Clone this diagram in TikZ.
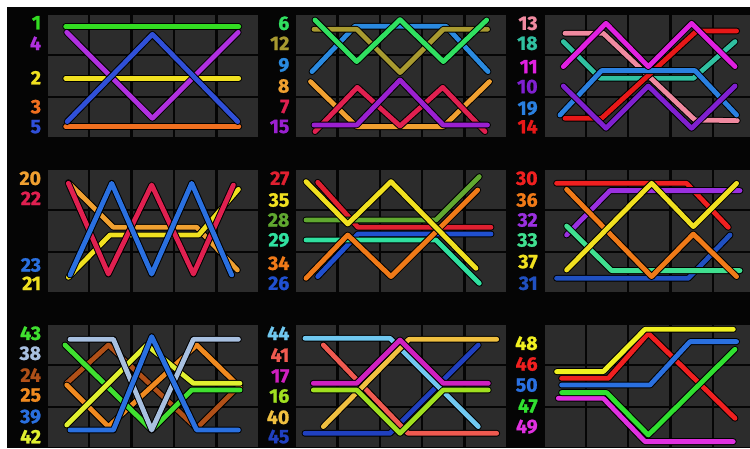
\documentclass[tikz,border=0pt]{standalone}
\usepackage{fontspec}
\setmainfont{Fira Sans}[BoldFeatures={FakeBold=1.2}]
\definecolor{cellc}{HTML}{2C2C2C}
\definecolor{bgc}{HTML}{050505}
% line colours
\definecolor{cA}{HTML}{33DD22}\definecolor{cB}{HTML}{B030E0}\definecolor{cC}{HTML}{F0E020}
\definecolor{cD}{HTML}{F07020}\definecolor{cE}{HTML}{3050D8}
\definecolor{cF}{HTML}{30E060}\definecolor{cG}{HTML}{A89A30}\definecolor{cH}{HTML}{2A8AE0}
\definecolor{cI}{HTML}{F0A030}\definecolor{cJ}{HTML}{E02050}\definecolor{cK}{HTML}{9A20D0}
\definecolor{cL}{HTML}{F08AA0}\definecolor{cM}{HTML}{30C0A0}\definecolor{cN}{HTML}{E020E0}
\definecolor{cO}{HTML}{8020D0}\definecolor{cP}{HTML}{2A80E0}\definecolor{cQ}{HTML}{E81818}
\definecolor{cR}{HTML}{2A70E0}
\definecolor{cS}{HTML}{E02030}\definecolor{cT}{HTML}{60A830}\definecolor{cU}{HTML}{30E0A0}
\definecolor{cV}{HTML}{F07A18}\definecolor{cW}{HTML}{2050D0}
\definecolor{cX}{HTML}{40E030}\definecolor{cY}{HTML}{A8C0E0}\definecolor{cZ}{HTML}{B05018}
\definecolor{ca}{HTML}{F08A20}\definecolor{cb}{HTML}{E0F030}
\definecolor{cc}{HTML}{70C8F0}\definecolor{cd}{HTML}{F05A50}\definecolor{ce}{HTML}{D020C0}
\definecolor{cf}{HTML}{A0E020}\definecolor{cg}{HTML}{F0C040}\definecolor{ch}{HTML}{2040C0}
\definecolor{ci}{HTML}{F0F020}\definecolor{cj}{HTML}{F02020}\definecolor{ck}{HTML}{30E030}
\definecolor{cl}{HTML}{E030E0}\definecolor{cm}{HTML}{40E090}\definecolor{cn}{HTML}{9A30E0}
\definecolor{co}{HTML}{2050C0}
\tikzset{
  pl/.style={draw=black, line width=1pt, double=#1, double distance=4.8pt, line cap=round, line join=round},
  lab/.style={text=#1, anchor=east, inner sep=0pt, font=\fontsize{19.5}{19.5}\selectfont\bfseries},
  cellbox/.style={fill=cellc},
}
\newcommand\pnlgrid{%
  \foreach \c in {0,...,4}{\foreach \r in {0,1,2}{%
    \fill[cellbox] (\c*42.4+1.2,\r*41.7+1.2) rectangle ++(40,39.3);}}}
\begin{document}
\begin{tikzpicture}[x=1pt,y=-1pt]
\useasboundingbox (0,0) rectangle (750,448);
\fill[white] (0,0) rectangle (750,448);
\fill[bgc] (7,6.7) rectangle (750,448);
% ---------- panel 1
\begin{scope}[shift={(46.7,13.3)}]
\pnlgrid
\node[lab=cA] (l1) at (-5.5,9.4) {1};
\node[lab=cB] (l4) at (-5.5,30) {4};
\node[lab=cC] (l2) at (-5.5,64.4) {2};
\node[lab=cD] (l3) at (-5.5,93.4) {3};
\node[lab=cE] (l5) at (-5.5,113.4) {5};
\draw[pl=cA] (19,13.3)--(192,13.3);
\draw[pl=cC] (19,65)--(192,65);
\draw[pl=cD] (19,113.3)--(192,113.3);
\draw[pl=cB] (20,19)--(105.7,105)--(191.5,19);
\draw[pl=cE] (20.5,108.3)--(105.7,21)--(191,108.3);
\end{scope}
% ---------- panel 2
\begin{scope}[shift={(295,13.3)}]
\pnlgrid
\node[lab=cF] (l6) at (-5.5,10) {6};
\node[lab=cG] (l12) at (-5.5,30) {12};
\node[lab=cH] (l9) at (-5.5,51.7) {9};
\node[lab=cI] (l8) at (-5.5,72.7) {8};
\node[lab=cJ] (l7) at (-5.5,93.3) {7};
\node[lab=cK] (l15) at (-5.5,113.3) {15};
\draw[pl=cH] (17,58.3)--(60,13)--(151,13)--(193,58.3);
\draw[pl=cG] (19,16)--(61.7,16)--(105,59.3)--(148.3,16)--(192.5,16);
\draw[pl=cF] (20,6.7)--(61.7,48.3)--(105,6.3)--(148.3,48.3)--(191.7,6.7);
\draw[pl=cI] (15.5,68.3)--(61.7,113.3)--(148.3,113.3)--(194.5,68.3);
\draw[pl=cJ] (20,118.3)--(62.3,74)--(105,112.7)--(147.7,74)--(190,118.3);
\draw[pl=cK] (19,111.7)--(61.7,111.7)--(105,66.7)--(148.3,111.7)--(192.5,111.7);
\end{scope}
% ---------- panel 3
\begin{scope}[shift={(543.3,13.3)}]
\pnlgrid
\node[lab=cL] (l13) at (-5.5,10) {13};
\node[lab=cM] (l18) at (-5.5,30) {18};
\node[lab=cN] (l11) at (-5.5,53.3) {11};
\node[lab=cO] (l10) at (-5.5,73.3) {10};
\node[lab=cP] (l19) at (-5.5,95) {19};
\node[lab=cQ] (l14) at (-5.5,113.3) {14};
\draw[pl=cM] (20,28.3)--(56.7,65)--(150,65)--(191.7,28.3);
\draw[pl=cL] (21.7,20)--(60,20)--(151.7,106.7)--(194,107.3);
\draw[pl=cQ] (21.7,105)--(58.3,105)--(153.3,17.7)--(193.3,17.7);
\draw[pl=cP] (16.7,101.7)--(58.3,57.3)--(151.7,57.3)--(193.3,101.7);
\draw[pl=cO] (20,72.7)--(62.7,115)--(105,72.7)--(148.3,115)--(191.7,72.7);
\draw[pl=cN] (20,53.3)--(62.7,10)--(105,53.3)--(148.3,10)--(191.7,53.3);
\end{scope}
% ---------- panel 4
\begin{scope}[shift={(46.7,168.3)}]
\pnlgrid
\node[lab=cI] (l20) at (-5.5,10) {20};
\node[lab=cJ] (l22) at (-5.5,30) {22};
\node[lab=cR] (l23) at (-5.5,96.7) {23};
\node[lab=cC] (l21) at (-5.5,115) {21};
\draw[pl=cI] (21.7,14.3)--(66.7,59)--(150,59)--(190.7,101.7);
\draw[pl=cC] (21.7,109)--(63.3,66.7)--(152,66.7)--(191.7,21);
\draw[pl=cJ] (21.7,15)--(61.7,105.7)--(105,16.7)--(146.7,105.7)--(186.7,16.7);
\draw[pl=cR] (23.3,106.7)--(65,15)--(105,105.7)--(145,15)--(185,106.7);
\end{scope}
% ---------- panel 5
\begin{scope}[shift={(295,168.3)}]
\pnlgrid
\node[lab=cS] (l27) at (-5.5,10) {27};
\node[lab=cC] (l35) at (-5.5,31.7) {35};
\node[lab=cT] (l28) at (-5.5,51.7) {28};
\node[lab=cU] (l29) at (-5.5,71.7) {29};
\node[lab=cV] (l34) at (-5.5,95) {34};
\node[lab=cW] (l26) at (-5.5,115) {26};
\draw[pl=cS] (22.7,14)--(63,59)--(196,59);
\draw[pl=cW] (22.7,108.3)--(63,65.7)--(196,65.7);
\draw[pl=cT] (11,51.7)--(141,51.7)--(184.3,8.3);
\draw[pl=cU] (11,71.7)--(141,71.7)--(184.3,115);
\draw[pl=cV] (11,110)--(52.7,66.7)--(96,108.3)--(182.7,21.7);
\draw[pl=cC] (11,13.3)--(52.7,55.7)--(96,13.3)--(181,100);
\end{scope}
% ---------- panel 6
\begin{scope}[shift={(543.3,168.3)}]
\pnlgrid
\node[lab=cj] (l30) at (-5.5,10) {30};
\node[lab=cV] (l36) at (-5.5,31.7) {36};
\node[lab=cn] (l32) at (-5.5,51.7) {32};
\node[lab=cm] (l33) at (-5.5,71.7) {33};
\node[lab=cC] (l37) at (-5.5,93.3) {37};
\node[lab=co] (l31) at (-5.5,115) {31};
\draw[pl=cj] (13.3,15)--(143.3,15)--(185,59);
\draw[pl=cn] (23.3,66.7)--(66.7,22.3)--(196.7,22.3);
\draw[pl=co] (13.3,110)--(145,110)--(186.7,66.7);
\draw[pl=cm] (23.3,57.7)--(68.3,102.3)--(196.7,102.3);
\draw[pl=cV] (23.3,21)--(108.3,108.3)--(150,65.7)--(193.3,108.3);
\draw[pl=cC] (23.3,101.7)--(108.3,15)--(150,58.3)--(193.3,15);
\end{scope}
% ---------- panel 7
\begin{scope}[shift={(46.7,323.3)}]
\pnlgrid
\node[lab=cX] (l43) at (-5.5,10) {43};
\node[lab=cY] (l38) at (-5.5,30) {38};
\node[lab=cZ] (l24) at (-5.5,51.7) {24};
\node[lab=ca] (l25) at (-5.5,71.7) {25};
\node[lab=cR] (l39) at (-5.5,93.3) {39};
\node[lab=cb] (l42) at (-5.5,113.3) {42};
\draw[pl=cZ] (20,60)--(61.7,21.7)--(150,105)--(193.3,61.7);
\draw[pl=ca] (20,61.7)--(61.7,103.3)--(150,21.7)--(193.3,64);
\draw[pl=cX] (18.3,21.7)--(105,106.7)--(145,66.7)--(193.3,66.7);
\draw[pl=cb] (20,101.7)--(100,21.7)--(146.7,60)--(193.3,60);
\draw[pl=cY] (23.3,16)--(66.7,16)--(105,106.7)--(146.7,16)--(191.7,16);
\draw[pl=cR] (23.3,106.7)--(66.7,106.7)--(105,13.3)--(150,106.7)--(191.7,106.7);
\end{scope}
% ---------- panel 8
\begin{scope}[shift={(295,323.3)}]
\pnlgrid
\node[lab=cc] (l44) at (-5.5,10) {44};
\node[lab=cd] (l41) at (-5.5,31.7) {41};
\node[lab=ce] (l17) at (-5.5,52.7) {17};
\node[lab=cf] (l16) at (-5.5,72.7) {16};
\node[lab=cg] (l40) at (-5.5,94) {40};
\node[lab=ch] (l45) at (-5.5,113.3) {45};
\draw[pl=ch] (10,110)--(95,110)--(183.3,21.7);
\draw[pl=cc] (10,15)--(95,15)--(183.3,103.3);
\draw[pl=cd] (28.3,21.7)--(113,110)--(201.7,110);
\draw[pl=cg] (28.3,103.3)--(114,16)--(201.7,16);
\draw[pl=cf] (18.3,66.7)--(61.7,66.7)--(105,110)--(148.3,66.7)--(193.3,66.7);
\draw[pl=ce] (18.3,60)--(61.7,60)--(105,16.7)--(148.3,60)--(193.3,60);
\end{scope}
% ---------- panel 9
\begin{scope}[shift={(543.3,323.3)}]
\pnlgrid
\node[lab=ci] (l48) at (-5.5,20) {48};
\node[lab=cj] (l46) at (-5.5,40.7) {46};
\node[lab=cR] (l50) at (-5.5,61.7) {50};
\node[lab=ck] (l47) at (-5.5,82.7) {47};
\node[lab=cl] (l49) at (-5.5,103.3) {49};
\draw[pl=cj] (18.3,55)--(65,55)--(105,10)--(191.7,95);
\draw[pl=cl] (15,75)--(60,75)--(101.7,118.3)--(190,118.3);
\draw[pl=ck] (18.3,69.3)--(63.3,69.3)--(105,111.7)--(191.7,26);
\draw[pl=cR] (18.3,61.7)--(106.7,61.7)--(146.7,18.3)--(193.3,18.3);
\draw[pl=ci] (13.3,48.3)--(60,48.3)--(101.7,6)--(190,6);
\end{scope}
\end{tikzpicture}
\end{document}
